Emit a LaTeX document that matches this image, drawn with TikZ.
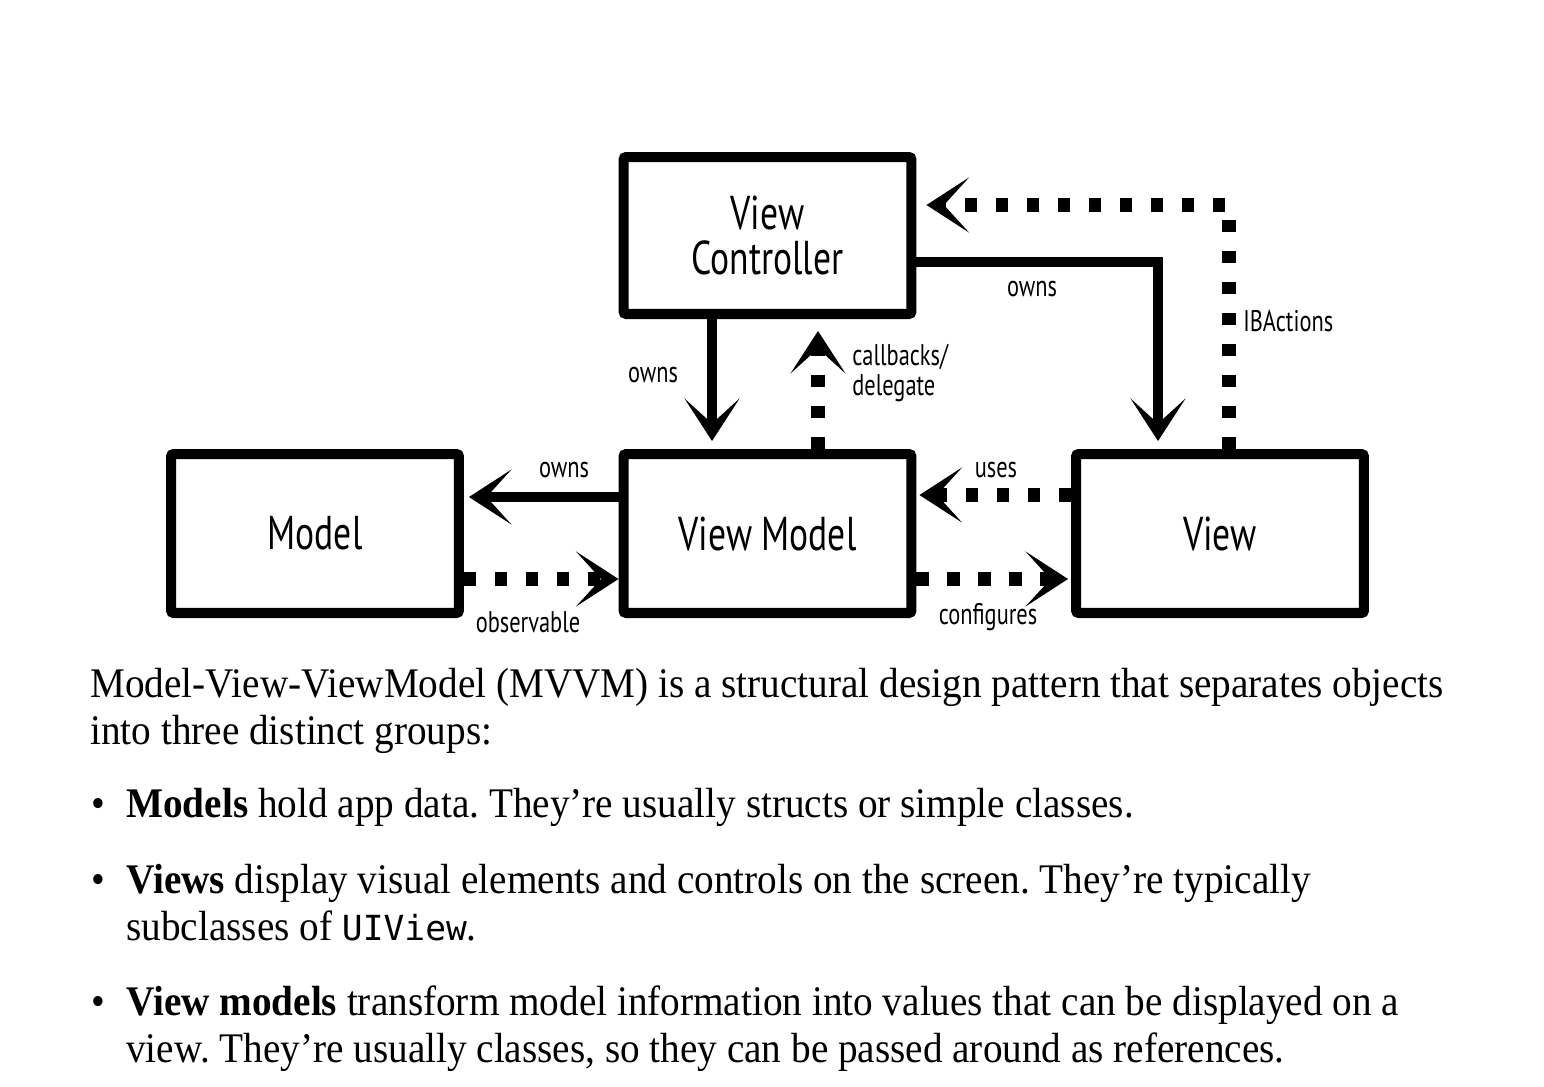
\documentclass[tikz,border=0pt]{standalone}
\usepackage{fontspec}
\setmainfont{Liberation Serif}[FakeStretch=0.93]
\setmonofont{DejaVu Sans Mono}[Scale=0.82]
\newfontfamily\handfont{PT Sans}[FakeStretch=0.75]
\usetikzlibrary{arrows.meta}
\frenchspacing

\begin{document}
\begin{tikzpicture}[x=0.02cm, y=-0.02cm,
            box/.style={draw, line width=5.7pt, minimum width=5.76cm, minimum height=3.18cm, align=center,
                        rounded corners=1.5pt, font=\handfont\fontsize{27}{26}\selectfont},
            lbl/.style={inner sep=0pt, align=left, font=\handfont\fontsize{17}{17}\selectfont},
            tip/.style={-{Stealth[length=0.85cm, width=1.1cm, inset=0.5cm]}},
            owns edge/.style={draw, line width=5.7pt, tip},
            dot edge/.style={draw, line width=7.5pt, dash pattern=on 0.25cm off 0.37cm, tip},
            txt/.style={anchor=base west, inner sep=0pt, font=\fontsize{24}{28}\selectfont}]
            \useasboundingbox (0,0) rectangle (1544,1086);
            % boxes
            \node [box, minimum height=3.14cm] (vc) at (767.5, 235.5) {View\\Controller};
            \node [box] (model) at (315, 533.5) {Model};
            \node [box] (vm) at (767.5, 533.5) {View Model};
            \node [box] (view) at (1220, 533.5) {View};
            % connectors
            \draw [owns edge, shorten >=0.16cm] ([xshift=-1.11cm]vc.south) -- ([xshift=-1.11cm]vm.north);
            \draw [dot edge, shorten >=0.24cm] ([xshift=1.01cm]vm.north) -- ([xshift=1.01cm]vc.south);
            \draw [owns edge, shorten >=0.16cm] ([yshift=-0.53cm]vc.east) -| ([xshift=-1.24cm]view.north);
            \draw [dot edge, shorten >=0.2cm] ([xshift=0.18cm]view.north) |- ([yshift=0.61cm]vc.east);
            \draw [owns edge, shorten >=0.1cm] ([yshift=0.73cm]vm.west) -- ([yshift=0.73cm]model.east);
            \draw [dot edge] ([yshift=-0.91cm]model.east) -- ([yshift=-0.91cm]vm.west);
            \draw [dot edge, shorten >=0.06cm] ([yshift=0.77cm]view.west) -- ([yshift=0.77cm]vm.east);
            \draw [dot edge, shorten >=0.06cm] ([yshift=-0.91cm]vm.east) -- ([yshift=-0.91cm]view.west);
            % connector labels
            \node [lbl] (owns1) at (653, 375) {owns};
            \node [lbl, anchor=west] (cb) at (852, 373) {callbacks/\\delegate};
            \node [lbl] (owns2) at (1032, 289) {owns};
            \node [lbl, anchor=west] (ib) at (1243, 321) {IBActions};
            \node [lbl] (owns3) at (564, 470) {owns};
            \node [lbl] (uses) at (996, 470) {uses};
            \node [lbl] (obs) at (528, 622) {observable};
            \node [lbl] (conf) at (988, 617) {configures};
            % text
            \node [txt] (t1) at (90, 697) {Model-View-ViewModel (MVVM) is a structural design pattern that separates objects};
            \node [txt] (t2) at (90, 744) {into three distinct groups:};
            \node [txt, anchor=base] (d1) at (98, 817) {\textbullet};
            \node [txt] (b1) at (126, 817) {\textbf{Models} hold app data. They’re usually structs or simple classes.};
            \node [txt, anchor=base] (d2) at (98, 893) {\textbullet};
            \node [txt] (b2) at (126, 893) {\textbf{Views} display visual elements and controls on the screen. They’re typically};
            \node [txt] (b2c) at (126, 940) {subclasses of \texttt{UIView}.};
            \node [txt, anchor=base] (d3) at (98, 1015) {\textbullet};
            \node [txt] (b3) at (126, 1015) {\textbf{View models} transform model information into values that can be displayed on a};
            \node [txt] (b3c) at (126, 1062) {view. They’re usually classes, so they can be passed around as references.};
        \end{tikzpicture}
\end{document}
